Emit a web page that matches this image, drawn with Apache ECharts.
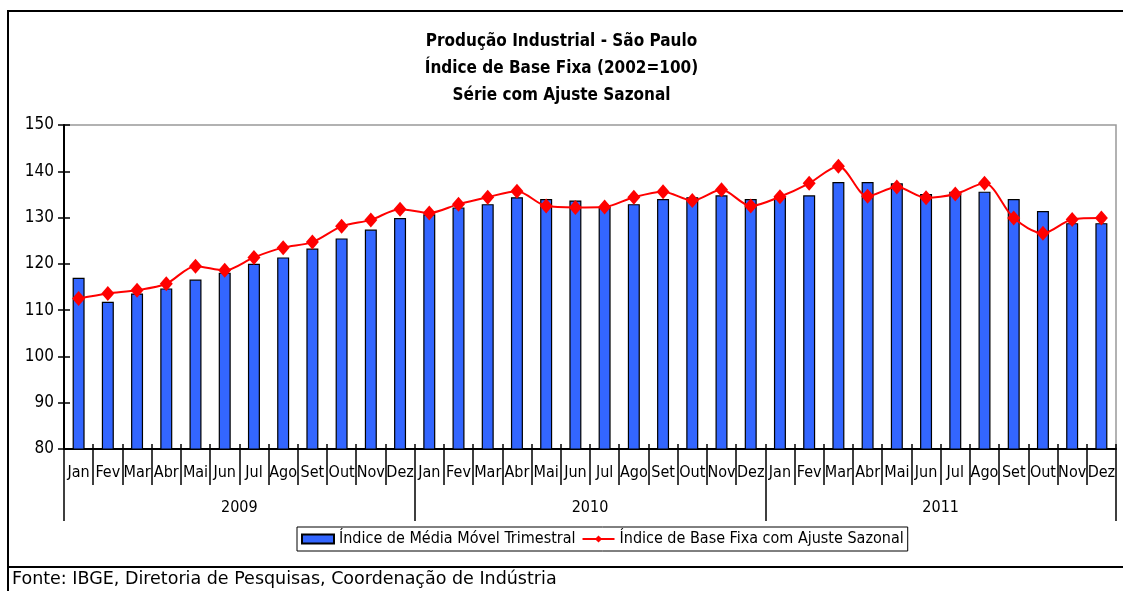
<!DOCTYPE html>
<html>
<head>
<meta charset="utf-8">
<script src="https://cdn.jsdelivr.net/npm/echarts@6/dist/echarts.min.js"></script>
<style>
  html, body { margin: 0; padding: 0; background: #fff; }
</style>
</head>
<body>
<!-- chart container -->
<div id="main" style="width: 1123px;height: 591px;"></div>
<script>
// category labels
var meses = ['Jan', 'Fev', 'Mar', 'Abr', 'Mai', 'Jun', 'Jul', 'Ago', 'Set', 'Out', 'Nov', 'Dez',
  'Jan', 'Fev', 'Mar', 'Abr', 'Mai', 'Jun', 'Jul', 'Ago', 'Set', 'Out', 'Nov', 'Dez',
  'Jan', 'Fev', 'Mar', 'Abr', 'Mai', 'Jun', 'Jul', 'Ago', 'Set', 'Out', 'Nov', 'Dez']
var anos = ['2009', '2010', '2011']
// Índice de Média Móvel Trimestral (bars)
var mediaMovel = [117.0, 111.8, 113.6, 114.7, 116.6, 118.1, 120.0, 121.4, 123.3, 125.5, 127.4, 129.9,
  130.7, 132.2, 132.9, 134.4, 134.0, 133.7, 132.3, 132.9, 134.0, 134.4, 134.8, 134.0,
  134.4, 134.8, 137.7, 137.7, 137.4, 135.1, 135.6, 135.6, 134.0, 131.4, 128.8, 128.8]
// Índice de Base Fixa com Ajuste Sazonal (line)
var ajusteSazonal = [112.5, 113.6, 114.3, 115.7, 119.5, 118.6, 121.4, 123.5, 124.7, 128.1, 129.5, 131.8,
  131.0, 132.9, 134.4, 135.7, 132.5, 132.2, 132.3, 134.4, 135.6, 133.7, 136.0, 132.5,
  134.5, 137.4, 141.1, 134.6, 136.6, 134.3, 135.1, 137.4, 129.9, 126.6, 129.6, 129.9]
// y axis
var yMin = 80
var yMax = 150
var yStep = 10

var fonte = "'Liberation Sans Narrow', 'DejaVu Sans Condensed', sans-serif"
var invisivel = { show: true, onZero: false, lineStyle: { color: 'rgba(0,0,0,0)', width: 0 } }
var myChart = echarts.init(document.getElementById('main'))
var option = {
  backgroundColor: '#fff',
  animation: false,
  title: {
    text: 'Produção Industrial - São Paulo\nÍndice de Base Fixa (2002=100)\nSérie com Ajuste Sazonal',
    left: 'center',
    top: 23,
    textStyle: {
      fontFamily: fonte,
      fontSize: 17,
      fontWeight: 'bold',
      lineHeight: 27,
      color: '#000'
    }
  },
  legend: {
    left: 297,
    top: 527,
    padding: [4, 4],
    itemGap: 6,
    itemWidth: 32,
    itemHeight: 9,
    borderColor: '#000',
    borderWidth: 1,
    textStyle: { fontFamily: fonte, fontSize: 16, color: '#000' },
    data: [
      { name: 'Índice de Média Móvel Trimestral', icon: 'rect' },
      { name: 'Índice de Base Fixa com Ajuste Sazonal' }
    ]
  },
  // plot area
  grid: {
    left: 64,
    right: 7,
    top: 125,
    bottom: 142,
    show: true,
    borderColor: '#999',
    borderWidth: 1.5
  },
  xAxis: [
    {
      type: 'category',
      data: meses,
      position: 'bottom',
      axisLine: { onZero: false, lineStyle: { color: '#000', width: 2 } },
      axisTick: { show: true, inside: true, length: 5, interval: 0, lineStyle: { color: '#000', width: 1.5 } },
      axisLabel: { interval: 0, margin: 16, fontFamily: fonte, fontSize: 16, color: '#000' }
    },
    {
      // month dividers below the axis
      type: 'category',
      data: meses,
      position: 'bottom',
      axisLine: invisivel,
      axisTick: { show: true, length: 36, interval: 0, lineStyle: { color: '#000', width: 1.5 } },
      axisLabel: { show: false }
    },
    {
      // years
      type: 'category',
      data: anos,
      position: 'bottom',
      axisLine: invisivel,
      axisTick: { show: true, length: 72, interval: 0, lineStyle: { color: '#000', width: 1.5 } },
      axisLabel: { interval: 0, margin: 51, fontFamily: fonte, fontSize: 16, color: '#000' }
    }
  ],
  yAxis: [
    {
      type: 'value',
      min: yMin,
      max: yMax,
      interval: yStep,
      splitLine: { show: false },
      axisLine: { show: true, lineStyle: { color: '#000', width: 2 } },
      axisTick: { show: true, length: 6, lineStyle: { color: '#000', width: 1.5 } },
      axisLabel: { margin: 10, fontFamily: fonte, fontSize: 17, color: '#000' }
    },
    {
      // inner half of the crossing ticks
      type: 'value',
      position: 'left',
      min: yMin,
      max: yMax,
      interval: yStep,
      splitLine: { show: false },
      axisLine: invisivel,
      axisTick: { show: true, inside: true, length: 6, lineStyle: { color: '#000', width: 1.5 } },
      axisLabel: { show: false }
    }
  ],
  series: [
    {
      name: 'Índice de Média Móvel Trimestral',
      type: 'bar',
      xAxisIndex: 0,
      yAxisIndex: 0,
      barWidth: 12,
      itemStyle: { color: '#3366FF', borderColor: '#000', borderWidth: 1.2 },
      data: mediaMovel
    },
    {
      name: 'Índice de Base Fixa com Ajuste Sazonal',
      type: 'line',
      xAxisIndex: 0,
      yAxisIndex: 0,
      smooth: 0.3,
      symbol: 'diamond',
      symbolSize: [13, 15],
      lineStyle: { color: '#FF0000', width: 2 },
      itemStyle: { color: '#FF0000' },
      data: ajusteSazonal
    }
  ],
  // outer frame and source note
  graphic: [
    {
      type: 'rect',
      shape: { x: 8, y: 11, width: 1130, height: 556 },
      style: { fill: null, stroke: '#000', lineWidth: 2 },
      silent: true
    },
    {
      type: 'line',
      shape: { x1: 8, y1: 567, x2: 8, y2: 600 },
      style: { stroke: '#000', lineWidth: 2 },
      silent: true
    },
    {
      type: 'text',
      left: 12,
      top: 570,
      style: {
        text: 'Fonte: IBGE, Diretoria de Pesquisas, Coordenação de Indústria',
        font: "17.5px 'DejaVu Sans', sans-serif",
        fill: '#000'
      }
    }
  ]
}
myChart.setOption(option)
</script>
</body>
</html>
